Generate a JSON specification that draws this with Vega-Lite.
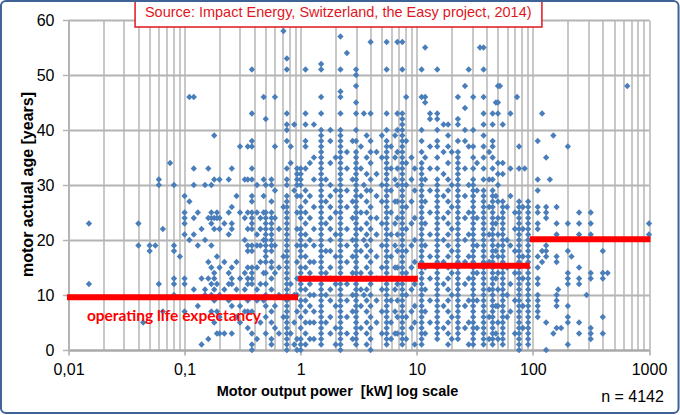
{
"$schema": "https://vega.github.io/schema/vega-lite/v6.json",
"autosize": {"type": "none"},
"width": 580.5,
"height": 330,
"padding": {"left": 68.5, "top": 20, "right": 31, "bottom": 65},
"background": "white",
"config": {"view": {"stroke": null}, "font": "Liberation Sans"},
"datasets": {
"life": [
{"lo":0.0097,"hi":0.95,"life":9.6},
{"lo":0.95,"hi":10.2,"life":12.95},
{"lo":10.2,"hi":94,"life":15.33},
{"lo":94,"hi":1030,"life":20.12}
],
"pts": [
{"p":0.015,"a":23},{"p":0.015,"a":12},
{"p":0.04,"a":23},{"p":0.04,"a":19},
{"p":0.044,"a":5},
{"p":0.05,"a":19},{"p":0.05,"a":18},
{"p":0.056,"a":19},
{"p":0.06,"a":31},{"p":0.06,"a":30},{"p":0.06,"a":12},
{"p":0.065,"a":22},{"p":0.065,"a":7},
{"p":0.075,"a":34},
{"p":0.081,"a":30},{"p":0.081,"a":19},{"p":0.081,"a":18},{"p":0.081,"a":13},{"p":0.081,"a":12},{"p":0.081,"a":10},
{"p":0.091,"a":17},
{"p":0.1,"a":28},{"p":0.1,"a":25},{"p":0.1,"a":24},{"p":0.1,"a":23},{"p":0.1,"a":21},{"p":0.1,"a":13},{"p":0.1,"a":12},{"p":0.1,"a":7},
{"p":0.11,"a":46},{"p":0.11,"a":27},{"p":0.11,"a":20},
{"p":0.12,"a":46},{"p":0.12,"a":33},{"p":0.12,"a":30},{"p":0.12,"a":24},{"p":0.12,"a":21},{"p":0.12,"a":11},
{"p":0.13,"a":25},{"p":0.13,"a":19},{"p":0.13,"a":8},
{"p":0.14,"a":22},{"p":0.14,"a":13},{"p":0.14,"a":1},
{"p":0.15,"a":30},{"p":0.15,"a":20},{"p":0.15,"a":11},{"p":0.15,"a":10},
{"p":0.16,"a":33},{"p":0.16,"a":24},{"p":0.16,"a":16},{"p":0.16,"a":13},{"p":0.16,"a":2},
{"p":0.17,"a":30},{"p":0.17,"a":25},{"p":0.17,"a":24},{"p":0.17,"a":23},{"p":0.17,"a":19},{"p":0.17,"a":15},{"p":0.17,"a":12},{"p":0.17,"a":10},{"p":0.17,"a":7},
{"p":0.18,"a":39},{"p":0.18,"a":31},{"p":0.18,"a":24},{"p":0.18,"a":22},{"p":0.18,"a":14},{"p":0.18,"a":13},{"p":0.18,"a":11},{"p":0.18,"a":9},{"p":0.18,"a":5},
{"p":0.19,"a":25},{"p":0.19,"a":24},{"p":0.19,"a":17},{"p":0.19,"a":12},{"p":0.19,"a":7},{"p":0.19,"a":3},
{"p":0.2,"a":31},{"p":0.2,"a":24},{"p":0.2,"a":22},{"p":0.2,"a":15},{"p":0.2,"a":10},{"p":0.2,"a":6},{"p":0.2,"a":3},
{"p":0.22,"a":23},{"p":0.22,"a":16},{"p":0.22,"a":11},{"p":0.22,"a":3},
{"p":0.24,"a":31},{"p":0.24,"a":25},{"p":0.24,"a":21},{"p":0.24,"a":14},{"p":0.24,"a":12},{"p":0.24,"a":9},
{"p":0.255,"a":33},{"p":0.255,"a":26},{"p":0.255,"a":23},{"p":0.255,"a":22},{"p":0.255,"a":15},{"p":0.255,"a":13},{"p":0.255,"a":12},{"p":0.255,"a":8},{"p":0.255,"a":3},
{"p":0.28,"a":28},{"p":0.28,"a":16},{"p":0.28,"a":11},{"p":0.28,"a":6},
{"p":0.3,"a":37},{"p":0.3,"a":25},{"p":0.3,"a":13},{"p":0.3,"a":8},{"p":0.3,"a":5},
{"p":0.33,"a":31},{"p":0.33,"a":24},{"p":0.33,"a":20},{"p":0.33,"a":14},{"p":0.33,"a":11},{"p":0.33,"a":7},
{"p":0.35,"a":37},{"p":0.35,"a":31},{"p":0.35,"a":25},{"p":0.35,"a":22},{"p":0.35,"a":19},{"p":0.35,"a":18},{"p":0.35,"a":15},{"p":0.35,"a":13},{"p":0.35,"a":12},{"p":0.35,"a":9},{"p":0.35,"a":7},{"p":0.35,"a":4},
{"p":0.38,"a":51},{"p":0.38,"a":43},{"p":0.38,"a":38},{"p":0.38,"a":37},{"p":0.38,"a":33},{"p":0.38,"a":31},{"p":0.38,"a":28},{"p":0.38,"a":27},{"p":0.38,"a":25},{"p":0.38,"a":24},{"p":0.38,"a":23},{"p":0.38,"a":22},{"p":0.38,"a":19},{"p":0.38,"a":18},{"p":0.38,"a":15},{"p":0.38,"a":14},{"p":0.38,"a":13},{"p":0.38,"a":12},{"p":0.38,"a":7},{"p":0.38,"a":3},{"p":0.38,"a":1},{"p":0.38,"a":0},
{"p":0.42,"a":30},{"p":0.42,"a":25},{"p":0.42,"a":21},{"p":0.42,"a":19},{"p":0.42,"a":15},{"p":0.42,"a":11},{"p":0.42,"a":9},{"p":0.42,"a":2},
{"p":0.45,"a":24},{"p":0.45,"a":22},{"p":0.45,"a":19},{"p":0.45,"a":16},{"p":0.45,"a":12},{"p":0.45,"a":5},
{"p":0.48,"a":46},{"p":0.48,"a":31},{"p":0.48,"a":28},{"p":0.48,"a":25},{"p":0.48,"a":20},{"p":0.48,"a":14},{"p":0.48,"a":9},
{"p":0.5,"a":42},{"p":0.5,"a":30},{"p":0.5,"a":25},{"p":0.5,"a":24},{"p":0.5,"a":23},{"p":0.5,"a":22},{"p":0.5,"a":21},{"p":0.5,"a":20},{"p":0.5,"a":19},{"p":0.5,"a":18},{"p":0.5,"a":17},{"p":0.5,"a":16},{"p":0.5,"a":14},{"p":0.5,"a":12},{"p":0.5,"a":10},{"p":0.5,"a":8},{"p":0.5,"a":6},{"p":0.5,"a":3},
{"p":0.56,"a":31},{"p":0.56,"a":30},{"p":0.56,"a":27},{"p":0.56,"a":25},{"p":0.56,"a":24},{"p":0.56,"a":23},{"p":0.56,"a":22},{"p":0.56,"a":21},{"p":0.56,"a":20},{"p":0.56,"a":19},{"p":0.56,"a":18},{"p":0.56,"a":16},{"p":0.56,"a":15},{"p":0.56,"a":13},{"p":0.56,"a":11},{"p":0.56,"a":7},{"p":0.56,"a":5},{"p":0.56,"a":2},{"p":0.56,"a":1},
{"p":0.6,"a":46},{"p":0.6,"a":37},{"p":0.6,"a":29},{"p":0.6,"a":24},{"p":0.6,"a":19},{"p":0.6,"a":14},{"p":0.6,"a":8},{"p":0.6,"a":4},
{"p":0.65,"a":22},{"p":0.65,"a":15},{"p":0.65,"a":10},{"p":0.65,"a":3},
{"p":0.71,"a":58},{"p":0.71,"a":26},{"p":0.71,"a":17},{"p":0.71,"a":6},
{"p":0.76,"a":53},{"p":0.76,"a":51},{"p":0.76,"a":43},{"p":0.76,"a":41},{"p":0.76,"a":40},{"p":0.76,"a":38},{"p":0.76,"a":33},{"p":0.76,"a":31},{"p":0.76,"a":30},{"p":0.76,"a":28},{"p":0.76,"a":27},{"p":0.76,"a":26},{"p":0.76,"a":25},{"p":0.76,"a":24},{"p":0.76,"a":23},{"p":0.76,"a":22},{"p":0.76,"a":21},{"p":0.76,"a":20},{"p":0.76,"a":19},{"p":0.76,"a":18},{"p":0.76,"a":17},{"p":0.76,"a":16},{"p":0.76,"a":15},{"p":0.76,"a":14},{"p":0.76,"a":13},{"p":0.76,"a":12},{"p":0.76,"a":11},{"p":0.76,"a":10},{"p":0.76,"a":9},{"p":0.76,"a":8},{"p":0.76,"a":7},{"p":0.76,"a":6},{"p":0.76,"a":5},{"p":0.76,"a":4},{"p":0.76,"a":3},{"p":0.76,"a":2},{"p":0.76,"a":1},{"p":0.76,"a":0},
{"p":0.82,"a":37},{"p":0.82,"a":34},{"p":0.82,"a":12},{"p":0.82,"a":3},
{"p":0.88,"a":41},{"p":0.88,"a":29},{"p":0.88,"a":10},{"p":0.88,"a":5},{"p":0.88,"a":1},
{"p":0.93,"a":33},{"p":0.93,"a":32},{"p":0.93,"a":31},{"p":0.93,"a":30},{"p":0.93,"a":28},{"p":0.93,"a":25},{"p":0.93,"a":22},{"p":0.93,"a":19},{"p":0.93,"a":16},{"p":0.93,"a":13},{"p":0.93,"a":10},{"p":0.93,"a":7},{"p":0.93,"a":2},{"p":0.93,"a":0},
{"p":1,"a":33},{"p":1,"a":32},{"p":1,"a":31},{"p":1,"a":30},{"p":1,"a":28},{"p":1,"a":26},{"p":1,"a":25},{"p":1,"a":24},{"p":1,"a":22},{"p":1,"a":21},{"p":1,"a":20},{"p":1,"a":19},{"p":1,"a":18},{"p":1,"a":17},{"p":1,"a":15},{"p":1,"a":14},{"p":1,"a":12},{"p":1,"a":11},{"p":1,"a":9},{"p":1,"a":8},{"p":1,"a":6},{"p":1,"a":4},{"p":1,"a":2},{"p":1,"a":1},{"p":1,"a":0},
{"p":1.1,"a":51},{"p":1.1,"a":43},{"p":1.1,"a":41},{"p":1.1,"a":38},{"p":1.1,"a":37},{"p":1.1,"a":33},{"p":1.1,"a":29},{"p":1.1,"a":27},{"p":1.1,"a":25},{"p":1.1,"a":23},{"p":1.1,"a":21},{"p":1.1,"a":19},{"p":1.1,"a":17},{"p":1.1,"a":15},{"p":1.1,"a":13},{"p":1.1,"a":11},{"p":1.1,"a":9},{"p":1.1,"a":7},{"p":1.1,"a":5},{"p":1.1,"a":3},{"p":1.1,"a":1},
{"p":1.2,"a":34},{"p":1.2,"a":28},{"p":1.2,"a":24},{"p":1.2,"a":20},{"p":1.2,"a":16},{"p":1.2,"a":14},{"p":1.2,"a":12},{"p":1.2,"a":10},{"p":1.2,"a":8},{"p":1.2,"a":5},{"p":1.2,"a":2},
{"p":1.3,"a":41},{"p":1.3,"a":35},{"p":1.3,"a":31},{"p":1.3,"a":26},{"p":1.3,"a":22},{"p":1.3,"a":19},{"p":1.3,"a":16},{"p":1.3,"a":13},{"p":1.3,"a":10},{"p":1.3,"a":7},{"p":1.3,"a":5},{"p":1.3,"a":2},
{"p":1.5,"a":52},{"p":1.5,"a":51},{"p":1.5,"a":46},{"p":1.5,"a":43},{"p":1.5,"a":40},{"p":1.5,"a":39},{"p":1.5,"a":38},{"p":1.5,"a":37},{"p":1.5,"a":36},{"p":1.5,"a":35},{"p":1.5,"a":34},{"p":1.5,"a":33},{"p":1.5,"a":32},{"p":1.5,"a":31},{"p":1.5,"a":30},{"p":1.5,"a":29},{"p":1.5,"a":28},{"p":1.5,"a":27},{"p":1.5,"a":26},{"p":1.5,"a":25},{"p":1.5,"a":24},{"p":1.5,"a":23},{"p":1.5,"a":22},{"p":1.5,"a":21},{"p":1.5,"a":20},{"p":1.5,"a":19},{"p":1.5,"a":18},{"p":1.5,"a":17},{"p":1.5,"a":16},{"p":1.5,"a":15},{"p":1.5,"a":14},{"p":1.5,"a":13},{"p":1.5,"a":12},{"p":1.5,"a":11},{"p":1.5,"a":10},{"p":1.5,"a":9},{"p":1.5,"a":8},{"p":1.5,"a":7},{"p":1.5,"a":6},{"p":1.5,"a":5},{"p":1.5,"a":4},{"p":1.5,"a":3},{"p":1.5,"a":2},{"p":1.5,"a":1},
{"p":1.65,"a":31},{"p":1.65,"a":27},{"p":1.65,"a":23},{"p":1.65,"a":18},{"p":1.65,"a":14},{"p":1.65,"a":10},{"p":1.65,"a":5},
{"p":1.8,"a":40},{"p":1.8,"a":38},{"p":1.8,"a":34},{"p":1.8,"a":30},{"p":1.8,"a":28},{"p":1.8,"a":26},{"p":1.8,"a":24},{"p":1.8,"a":22},{"p":1.8,"a":20},{"p":1.8,"a":18},{"p":1.8,"a":15},{"p":1.8,"a":13},{"p":1.8,"a":11},{"p":1.8,"a":9},{"p":1.8,"a":6},{"p":1.8,"a":3},
{"p":2,"a":35},{"p":2,"a":29},{"p":2,"a":25},{"p":2,"a":21},{"p":2,"a":17},{"p":2,"a":12},{"p":2,"a":8},{"p":2,"a":4},{"p":2,"a":1},
{"p":2.2,"a":57},{"p":2.2,"a":51},{"p":2.2,"a":47},{"p":2.2,"a":46},{"p":2.2,"a":43},{"p":2.2,"a":40},{"p":2.2,"a":39},{"p":2.2,"a":38},{"p":2.2,"a":37},{"p":2.2,"a":36},{"p":2.2,"a":35},{"p":2.2,"a":34},{"p":2.2,"a":33},{"p":2.2,"a":32},{"p":2.2,"a":31},{"p":2.2,"a":30},{"p":2.2,"a":29},{"p":2.2,"a":28},{"p":2.2,"a":27},{"p":2.2,"a":26},{"p":2.2,"a":25},{"p":2.2,"a":24},{"p":2.2,"a":23},{"p":2.2,"a":22},{"p":2.2,"a":21},{"p":2.2,"a":20},{"p":2.2,"a":19},{"p":2.2,"a":18},{"p":2.2,"a":17},{"p":2.2,"a":16},{"p":2.2,"a":15},{"p":2.2,"a":14},{"p":2.2,"a":13},{"p":2.2,"a":12},{"p":2.2,"a":11},{"p":2.2,"a":10},{"p":2.2,"a":9},{"p":2.2,"a":8},{"p":2.2,"a":7},{"p":2.2,"a":6},{"p":2.2,"a":5},{"p":2.2,"a":4},{"p":2.2,"a":3},{"p":2.2,"a":2},{"p":2.2,"a":1},{"p":2.2,"a":0},
{"p":2.5,"a":54},{"p":2.5,"a":36},{"p":2.5,"a":33},{"p":2.5,"a":29},{"p":2.5,"a":26},{"p":2.5,"a":22},{"p":2.5,"a":19},{"p":2.5,"a":16},{"p":2.5,"a":12},{"p":2.5,"a":9},{"p":2.5,"a":6},{"p":2.5,"a":3},
{"p":2.8,"a":38},{"p":2.8,"a":31},{"p":2.8,"a":27},{"p":2.8,"a":24},{"p":2.8,"a":20},{"p":2.8,"a":17},{"p":2.8,"a":14},{"p":2.8,"a":10},{"p":2.8,"a":7},{"p":2.8,"a":2},
{"p":3,"a":51},{"p":3,"a":50},{"p":3,"a":48},{"p":3,"a":45},{"p":3,"a":43},{"p":3,"a":40},{"p":3,"a":38},{"p":3,"a":36},{"p":3,"a":35},{"p":3,"a":34},{"p":3,"a":33},{"p":3,"a":32},{"p":3,"a":31},{"p":3,"a":30},{"p":3,"a":29},{"p":3,"a":28},{"p":3,"a":27},{"p":3,"a":26},{"p":3,"a":25},{"p":3,"a":24},{"p":3,"a":23},{"p":3,"a":22},{"p":3,"a":21},{"p":3,"a":20},{"p":3,"a":19},{"p":3,"a":18},{"p":3,"a":17},{"p":3,"a":16},{"p":3,"a":15},{"p":3,"a":14},{"p":3,"a":13},{"p":3,"a":12},{"p":3,"a":11},{"p":3,"a":10},{"p":3,"a":9},{"p":3,"a":8},{"p":3,"a":7},{"p":3,"a":6},{"p":3,"a":5},{"p":3,"a":4},{"p":3,"a":3},{"p":3,"a":2},{"p":3,"a":1},
{"p":3.3,"a":37},{"p":3.3,"a":33},{"p":3.3,"a":28},{"p":3.3,"a":25},{"p":3.3,"a":22},{"p":3.3,"a":18},{"p":3.3,"a":14},{"p":3.3,"a":11},{"p":3.3,"a":8},{"p":3.3,"a":4},
{"p":3.5,"a":43},{"p":3.5,"a":30},{"p":3.5,"a":20},{"p":3.5,"a":10},
{"p":3.7,"a":39},{"p":3.7,"a":35},{"p":3.7,"a":32},{"p":3.7,"a":29},{"p":3.7,"a":27},{"p":3.7,"a":25},{"p":3.7,"a":23},{"p":3.7,"a":21},{"p":3.7,"a":19},{"p":3.7,"a":17},{"p":3.7,"a":15},{"p":3.7,"a":13},{"p":3.7,"a":11},{"p":3.7,"a":9},{"p":3.7,"a":7},{"p":3.7,"a":5},{"p":3.7,"a":3},{"p":3.7,"a":1},
{"p":4,"a":56},{"p":4,"a":43},{"p":4,"a":38},{"p":4,"a":36},{"p":4,"a":34},{"p":4,"a":31},{"p":4,"a":29},{"p":4,"a":26},{"p":4,"a":24},{"p":4,"a":22},{"p":4,"a":20},{"p":4,"a":18},{"p":4,"a":16},{"p":4,"a":14},{"p":4,"a":12},{"p":4,"a":10},{"p":4,"a":8},{"p":4,"a":6},{"p":4,"a":4},{"p":4,"a":2},{"p":4,"a":0},
{"p":4.5,"a":36},{"p":4.5,"a":32},{"p":4.5,"a":28},{"p":4.5,"a":24},{"p":4.5,"a":21},{"p":4.5,"a":17},{"p":4.5,"a":13},{"p":4.5,"a":9},{"p":4.5,"a":5},
{"p":5,"a":39},{"p":5,"a":35},{"p":5,"a":30},{"p":5,"a":27},{"p":5,"a":23},{"p":5,"a":19},{"p":5,"a":15},{"p":5,"a":11},{"p":5,"a":7},{"p":5,"a":3},
{"p":5.5,"a":56},{"p":5.5,"a":51},{"p":5.5,"a":43},{"p":5.5,"a":40},{"p":5.5,"a":38},{"p":5.5,"a":37},{"p":5.5,"a":36},{"p":5.5,"a":35},{"p":5.5,"a":34},{"p":5.5,"a":33},{"p":5.5,"a":32},{"p":5.5,"a":31},{"p":5.5,"a":30},{"p":5.5,"a":29},{"p":5.5,"a":28},{"p":5.5,"a":27},{"p":5.5,"a":26},{"p":5.5,"a":25},{"p":5.5,"a":24},{"p":5.5,"a":23},{"p":5.5,"a":22},{"p":5.5,"a":21},{"p":5.5,"a":20},{"p":5.5,"a":19},{"p":5.5,"a":18},{"p":5.5,"a":17},{"p":5.5,"a":16},{"p":5.5,"a":15},{"p":5.5,"a":14},{"p":5.5,"a":13},{"p":5.5,"a":12},{"p":5.5,"a":11},{"p":5.5,"a":10},{"p":5.5,"a":9},{"p":5.5,"a":8},{"p":5.5,"a":7},{"p":5.5,"a":6},{"p":5.5,"a":5},{"p":5.5,"a":4},{"p":5.5,"a":3},{"p":5.5,"a":2},{"p":5.5,"a":1},
{"p":6,"a":37},{"p":6,"a":33},{"p":6,"a":29},{"p":6,"a":25},{"p":6,"a":21},{"p":6,"a":17},{"p":6,"a":13},{"p":6,"a":9},{"p":6,"a":5},{"p":6,"a":2},
{"p":6.5,"a":39},{"p":6.5,"a":35},{"p":6.5,"a":31},{"p":6.5,"a":27},{"p":6.5,"a":23},{"p":6.5,"a":19},{"p":6.5,"a":15},{"p":6.5,"a":11},{"p":6.5,"a":7},{"p":6.5,"a":3},
{"p":6.8,"a":56},{"p":6.8,"a":43},{"p":6.8,"a":40},{"p":6.8,"a":36},{"p":6.8,"a":33},{"p":6.8,"a":30},{"p":6.8,"a":27},{"p":6.8,"a":24},{"p":6.8,"a":21},{"p":6.8,"a":18},{"p":6.8,"a":15},{"p":6.8,"a":12},{"p":6.8,"a":9},{"p":6.8,"a":6},{"p":6.8,"a":3},
{"p":7.5,"a":56},{"p":7.5,"a":51},{"p":7.5,"a":43},{"p":7.5,"a":42},{"p":7.5,"a":41},{"p":7.5,"a":40},{"p":7.5,"a":39},{"p":7.5,"a":38},{"p":7.5,"a":37},{"p":7.5,"a":36},{"p":7.5,"a":35},{"p":7.5,"a":34},{"p":7.5,"a":33},{"p":7.5,"a":32},{"p":7.5,"a":31},{"p":7.5,"a":30},{"p":7.5,"a":29},{"p":7.5,"a":28},{"p":7.5,"a":27},{"p":7.5,"a":26},{"p":7.5,"a":25},{"p":7.5,"a":24},{"p":7.5,"a":23},{"p":7.5,"a":22},{"p":7.5,"a":21},{"p":7.5,"a":20},{"p":7.5,"a":19},{"p":7.5,"a":18},{"p":7.5,"a":17},{"p":7.5,"a":16},{"p":7.5,"a":15},{"p":7.5,"a":14},{"p":7.5,"a":13},{"p":7.5,"a":12},{"p":7.5,"a":11},{"p":7.5,"a":10},{"p":7.5,"a":9},{"p":7.5,"a":8},{"p":7.5,"a":7},{"p":7.5,"a":6},{"p":7.5,"a":5},{"p":7.5,"a":4},{"p":7.5,"a":3},{"p":7.5,"a":2},{"p":7.5,"a":1},
{"p":8.1,"a":46},{"p":8.1,"a":38},{"p":8.1,"a":34},{"p":8.1,"a":30},{"p":8.1,"a":26},{"p":8.1,"a":22},{"p":8.1,"a":18},{"p":8.1,"a":14},{"p":8.1,"a":10},{"p":8.1,"a":6},{"p":8.1,"a":2},
{"p":9,"a":35},{"p":9,"a":31},{"p":9,"a":27},{"p":9,"a":23},{"p":9,"a":19},{"p":9,"a":15},{"p":9,"a":11},{"p":9,"a":7},{"p":9,"a":4},
{"p":9.6,"a":33},{"p":9.6,"a":29},{"p":9.6,"a":24},{"p":9.6,"a":20},{"p":9.6,"a":16},{"p":9.6,"a":12},{"p":9.6,"a":8},{"p":9.6,"a":5},{"p":9.6,"a":1},
{"p":11,"a":51},{"p":11,"a":46},{"p":11,"a":40},{"p":11,"a":38},{"p":11,"a":36},{"p":11,"a":34},{"p":11,"a":33},{"p":11,"a":32},{"p":11,"a":31},{"p":11,"a":30},{"p":11,"a":29},{"p":11,"a":28},{"p":11,"a":27},{"p":11,"a":26},{"p":11,"a":25},{"p":11,"a":24},{"p":11,"a":23},{"p":11,"a":22},{"p":11,"a":21},{"p":11,"a":20},{"p":11,"a":19},{"p":11,"a":18},{"p":11,"a":17},{"p":11,"a":16},{"p":11,"a":15},{"p":11,"a":14},{"p":11,"a":13},{"p":11,"a":12},{"p":11,"a":11},{"p":11,"a":10},{"p":11,"a":9},{"p":11,"a":8},{"p":11,"a":7},{"p":11,"a":6},{"p":11,"a":5},{"p":11,"a":4},{"p":11,"a":3},{"p":11,"a":2},{"p":11,"a":1},
{"p":11.8,"a":55},{"p":11.8,"a":46},{"p":11.8,"a":45},{"p":11.8,"a":35},{"p":11.8,"a":31},{"p":11.8,"a":27},{"p":11.8,"a":23},{"p":11.8,"a":19},{"p":11.8,"a":15},{"p":11.8,"a":11},{"p":11.8,"a":7},{"p":11.8,"a":3},
{"p":13,"a":43},{"p":13,"a":42},{"p":13,"a":37},{"p":13,"a":33},{"p":13,"a":29},{"p":13,"a":25},{"p":13,"a":21},{"p":13,"a":17},{"p":13,"a":13},{"p":13,"a":9},{"p":13,"a":5},
{"p":15,"a":51},{"p":15,"a":43},{"p":15,"a":42},{"p":15,"a":40},{"p":15,"a":38},{"p":15,"a":37},{"p":15,"a":35},{"p":15,"a":33},{"p":15,"a":31},{"p":15,"a":30},{"p":15,"a":29},{"p":15,"a":28},{"p":15,"a":27},{"p":15,"a":26},{"p":15,"a":25},{"p":15,"a":24},{"p":15,"a":23},{"p":15,"a":22},{"p":15,"a":21},{"p":15,"a":20},{"p":15,"a":19},{"p":15,"a":18},{"p":15,"a":17},{"p":15,"a":16},{"p":15,"a":15},{"p":15,"a":14},{"p":15,"a":13},{"p":15,"a":12},{"p":15,"a":11},{"p":15,"a":10},{"p":15,"a":9},{"p":15,"a":8},{"p":15,"a":7},{"p":15,"a":6},{"p":15,"a":5},{"p":15,"a":4},{"p":15,"a":3},{"p":15,"a":2},
{"p":17,"a":41},{"p":17,"a":36},{"p":17,"a":32},{"p":17,"a":28},{"p":17,"a":24},{"p":17,"a":20},{"p":17,"a":16},{"p":17,"a":12},{"p":17,"a":8},{"p":17,"a":4},
{"p":18.6,"a":41},{"p":18.6,"a":39},{"p":18.6,"a":37},{"p":18.6,"a":34},{"p":18.6,"a":31},{"p":18.6,"a":29},{"p":18.6,"a":27},{"p":18.6,"a":25},{"p":18.6,"a":23},{"p":18.6,"a":21},{"p":18.6,"a":19},{"p":18.6,"a":17},{"p":18.6,"a":15},{"p":18.6,"a":13},{"p":18.6,"a":11},{"p":18.6,"a":9},{"p":18.6,"a":7},{"p":18.6,"a":5},{"p":18.6,"a":3},{"p":18.6,"a":1},
{"p":20,"a":36},{"p":20,"a":30},{"p":20,"a":26},{"p":20,"a":22},{"p":20,"a":18},{"p":20,"a":14},{"p":20,"a":10},{"p":20,"a":6},{"p":20,"a":2},
{"p":22.6,"a":46},{"p":22.6,"a":42},{"p":22.6,"a":41},{"p":22.6,"a":38},{"p":22.6,"a":36},{"p":22.6,"a":35},{"p":22.6,"a":34},{"p":22.6,"a":33},{"p":22.6,"a":32},{"p":22.6,"a":31},{"p":22.6,"a":30},{"p":22.6,"a":29},{"p":22.6,"a":28},{"p":22.6,"a":27},{"p":22.6,"a":26},{"p":22.6,"a":25},{"p":22.6,"a":24},{"p":22.6,"a":23},{"p":22.6,"a":22},{"p":22.6,"a":21},{"p":22.6,"a":20},{"p":22.6,"a":19},{"p":22.6,"a":18},{"p":22.6,"a":17},{"p":22.6,"a":16},{"p":22.6,"a":15},{"p":22.6,"a":14},{"p":22.6,"a":13},{"p":22.6,"a":12},{"p":22.6,"a":11},{"p":22.6,"a":10},{"p":22.6,"a":9},{"p":22.6,"a":8},{"p":22.6,"a":7},{"p":22.6,"a":6},{"p":22.6,"a":5},{"p":22.6,"a":4},{"p":22.6,"a":3},{"p":22.6,"a":2},
{"p":26,"a":48},{"p":26,"a":44},{"p":26,"a":40},{"p":26,"a":38},{"p":26,"a":33},{"p":26,"a":28},{"p":26,"a":24},{"p":26,"a":20},{"p":26,"a":16},{"p":26,"a":12},{"p":26,"a":8},{"p":26,"a":4},
{"p":28,"a":51},{"p":28,"a":37},{"p":28,"a":30},{"p":28,"a":25},{"p":28,"a":21},{"p":28,"a":17},{"p":28,"a":13},{"p":28,"a":9},{"p":28,"a":5},{"p":28,"a":1},
{"p":30.6,"a":46},{"p":30.6,"a":40},{"p":30.6,"a":37},{"p":30.6,"a":35},{"p":30.6,"a":33},{"p":30.6,"a":31},{"p":30.6,"a":30},{"p":30.6,"a":29},{"p":30.6,"a":28},{"p":30.6,"a":27},{"p":30.6,"a":26},{"p":30.6,"a":25},{"p":30.6,"a":24},{"p":30.6,"a":23},{"p":30.6,"a":22},{"p":30.6,"a":21},{"p":30.6,"a":20},{"p":30.6,"a":19},{"p":30.6,"a":18},{"p":30.6,"a":17},{"p":30.6,"a":16},{"p":30.6,"a":15},{"p":30.6,"a":14},{"p":30.6,"a":13},{"p":30.6,"a":12},{"p":30.6,"a":11},{"p":30.6,"a":10},{"p":30.6,"a":9},{"p":30.6,"a":8},{"p":30.6,"a":7},{"p":30.6,"a":6},{"p":30.6,"a":5},{"p":30.6,"a":4},{"p":30.6,"a":3},{"p":30.6,"a":2},{"p":30.6,"a":1},
{"p":33,"a":34},{"p":33,"a":29},{"p":33,"a":24},{"p":33,"a":19},{"p":33,"a":14},{"p":33,"a":9},{"p":33,"a":4},
{"p":35,"a":55},
{"p":37.6,"a":55},{"p":37.6,"a":51},{"p":37.6,"a":46},{"p":37.6,"a":43},{"p":37.6,"a":41},{"p":37.6,"a":39},{"p":37.6,"a":37},{"p":37.6,"a":35},{"p":37.6,"a":33},{"p":37.6,"a":31},{"p":37.6,"a":29},{"p":37.6,"a":28},{"p":37.6,"a":27},{"p":37.6,"a":26},{"p":37.6,"a":25},{"p":37.6,"a":24},{"p":37.6,"a":23},{"p":37.6,"a":22},{"p":37.6,"a":21},{"p":37.6,"a":20},{"p":37.6,"a":19},{"p":37.6,"a":18},{"p":37.6,"a":17},{"p":37.6,"a":16},{"p":37.6,"a":15},{"p":37.6,"a":14},{"p":37.6,"a":13},{"p":37.6,"a":12},{"p":37.6,"a":11},{"p":37.6,"a":10},{"p":37.6,"a":9},{"p":37.6,"a":8},{"p":37.6,"a":7},{"p":37.6,"a":6},{"p":37.6,"a":5},{"p":37.6,"a":4},{"p":37.6,"a":3},{"p":37.6,"a":2},{"p":37.6,"a":1},
{"p":42,"a":36},{"p":42,"a":31},{"p":42,"a":26},{"p":42,"a":21},{"p":42,"a":16},{"p":42,"a":11},{"p":42,"a":6},{"p":42,"a":2},
{"p":45,"a":43},{"p":45,"a":41},{"p":45,"a":38},{"p":45,"a":37},{"p":45,"a":35},{"p":45,"a":33},{"p":45,"a":31},{"p":45,"a":29},{"p":45,"a":28},{"p":45,"a":27},{"p":45,"a":26},{"p":45,"a":25},{"p":45,"a":24},{"p":45,"a":23},{"p":45,"a":22},{"p":45,"a":21},{"p":45,"a":20},{"p":45,"a":19},{"p":45,"a":18},{"p":45,"a":17},{"p":45,"a":16},{"p":45,"a":15},{"p":45,"a":14},{"p":45,"a":13},{"p":45,"a":12},{"p":45,"a":11},{"p":45,"a":10},{"p":45,"a":9},{"p":45,"a":8},{"p":45,"a":7},{"p":45,"a":6},{"p":45,"a":5},{"p":45,"a":4},{"p":45,"a":3},{"p":45,"a":2},{"p":45,"a":1},
{"p":48,"a":45},{"p":48,"a":28},{"p":48,"a":23},{"p":48,"a":18},{"p":48,"a":13},{"p":48,"a":8},{"p":48,"a":3},
{"p":50,"a":48},{"p":50,"a":45},{"p":50,"a":43},{"p":50,"a":34},{"p":50,"a":32},{"p":50,"a":30},{"p":50,"a":27},{"p":50,"a":24},{"p":50,"a":21},{"p":50,"a":19},{"p":50,"a":17},{"p":50,"a":14},{"p":50,"a":11},{"p":50,"a":8},{"p":50,"a":5},{"p":50,"a":2},
{"p":52,"a":48},
{"p":55,"a":41},{"p":55,"a":34},{"p":55,"a":32},{"p":55,"a":27},{"p":55,"a":26},{"p":55,"a":25},{"p":55,"a":24},{"p":55,"a":23},{"p":55,"a":22},{"p":55,"a":21},{"p":55,"a":20},{"p":55,"a":19},{"p":55,"a":18},{"p":55,"a":17},{"p":55,"a":16},{"p":55,"a":15},{"p":55,"a":14},{"p":55,"a":13},{"p":55,"a":12},{"p":55,"a":11},{"p":55,"a":10},{"p":55,"a":9},{"p":55,"a":8},{"p":55,"a":7},{"p":55,"a":6},{"p":55,"a":5},{"p":55,"a":4},{"p":55,"a":3},{"p":55,"a":2},{"p":55,"a":1},
{"p":60,"a":26},{"p":60,"a":20},{"p":60,"a":15},{"p":60,"a":10},{"p":60,"a":6},
{"p":64,"a":43},{"p":64,"a":33},{"p":64,"a":28},{"p":64,"a":19},{"p":64,"a":12},{"p":64,"a":7},
{"p":70,"a":25},{"p":70,"a":22},{"p":70,"a":18},{"p":70,"a":14},{"p":70,"a":9},{"p":70,"a":3},
{"p":73,"a":46},
{"p":76,"a":37},{"p":76,"a":33},{"p":76,"a":27},{"p":76,"a":26},{"p":76,"a":25},{"p":76,"a":24},{"p":76,"a":23},{"p":76,"a":22},{"p":76,"a":21},{"p":76,"a":20},{"p":76,"a":19},{"p":76,"a":18},{"p":76,"a":17},{"p":76,"a":16},{"p":76,"a":15},{"p":76,"a":14},{"p":76,"a":13},{"p":76,"a":12},{"p":76,"a":11},{"p":76,"a":10},{"p":76,"a":9},{"p":76,"a":8},{"p":76,"a":7},{"p":76,"a":6},{"p":76,"a":5},{"p":76,"a":4},{"p":76,"a":3},{"p":76,"a":2},{"p":76,"a":1},{"p":76,"a":0},
{"p":82,"a":26},{"p":82,"a":22},{"p":82,"a":17},{"p":82,"a":13},{"p":82,"a":8},{"p":82,"a":4},
{"p":85,"a":33},
{"p":91,"a":27},{"p":91,"a":26},{"p":91,"a":25},{"p":91,"a":24},{"p":91,"a":23},{"p":91,"a":22},{"p":91,"a":21},{"p":91,"a":20},{"p":91,"a":19},{"p":91,"a":18},{"p":91,"a":17},{"p":91,"a":16},{"p":91,"a":15},{"p":91,"a":14},{"p":91,"a":13},{"p":91,"a":12},{"p":91,"a":11},{"p":91,"a":10},{"p":91,"a":9},{"p":91,"a":8},{"p":91,"a":7},{"p":91,"a":6},{"p":91,"a":5},{"p":91,"a":4},{"p":91,"a":3},{"p":91,"a":2},{"p":91,"a":1},
{"p":110,"a":38},{"p":110,"a":31},{"p":110,"a":29},{"p":110,"a":26},{"p":110,"a":25},{"p":110,"a":23},{"p":110,"a":22},{"p":110,"a":17},{"p":110,"a":15},{"p":110,"a":13},{"p":110,"a":12},{"p":110,"a":10},{"p":110,"a":9},{"p":110,"a":8},{"p":110,"a":7},{"p":110,"a":6},
{"p":120,"a":43},{"p":120,"a":18},{"p":120,"a":16},
{"p":130,"a":35},{"p":130,"a":26},{"p":130,"a":25},{"p":130,"a":24},{"p":130,"a":19},{"p":130,"a":18},{"p":130,"a":17},{"p":130,"a":5},{"p":130,"a":0},
{"p":140,"a":31},
{"p":150,"a":39},{"p":150,"a":3},
{"p":160,"a":26},{"p":160,"a":23},{"p":160,"a":21},{"p":160,"a":17},{"p":160,"a":16},{"p":160,"a":10},{"p":160,"a":9},{"p":160,"a":8},{"p":160,"a":4},
{"p":165,"a":11},
{"p":175,"a":4},
{"p":200,"a":37},{"p":200,"a":23},{"p":200,"a":18},{"p":200,"a":14},{"p":200,"a":13},{"p":200,"a":12},{"p":200,"a":8},{"p":200,"a":6},{"p":200,"a":5},{"p":200,"a":1},
{"p":215,"a":17},
{"p":250,"a":25},{"p":250,"a":23},{"p":250,"a":21},{"p":250,"a":15},{"p":250,"a":13},{"p":250,"a":12},{"p":250,"a":5},{"p":250,"a":3},
{"p":290,"a":10},
{"p":315,"a":25},{"p":315,"a":23},{"p":315,"a":21},{"p":315,"a":14},{"p":315,"a":13},{"p":315,"a":4},{"p":315,"a":3},{"p":315,"a":2},
{"p":400,"a":18},{"p":400,"a":14},{"p":400,"a":13},{"p":400,"a":6},{"p":400,"a":3},
{"p":440,"a":14},
{"p":650,"a":48},
{"p":1000,"a":23},{"p":1000,"a":21}
]
},
"layer": [
{
"data": {"name": "pts"},
"mark": {"type": "point", "shape": "diamond", "filled": true, "size": 40, "color": "#4a7ebb", "opacity": 1, "strokeWidth": 0},
"encoding": {
"x": {"field": "p", "type": "quantitative",
"scale": {"type": "log", "domain": [0.01, 1000], "nice": false},
"axis": {
"title": "Motor output power\u00a0 [kW] log scale",
"titleFont": "Liberation Sans", "titleFontSize": 14.5, "titleFontWeight": "bold", "titleColor": "#000000",
"titleX": 268.5, "titleY": 45, "titleAlign": "center", "titleBaseline": "alphabetic", "titleAnchor": null,
"values": [0.01,0.02,0.03,0.04,0.05,0.06,0.07,0.08,0.09,0.1,0.2,0.3,0.4,0.5,0.6,0.7,0.8,0.9,1,2,3,4,5,6,7,8,9,10,20,30,40,50,60,70,80,90,100,200,300,400,500,600,700,800,900,1000],
"labelExpr": "indexof([0.01,0.1,1,10,100,1000], datum.value) >= 0 ? replace(datum.value + '', '.', ',') : ''",
"labelFont": "Liberation Sans", "labelFontSize": 16, "labelColor": "#000000",
"labelBaseline": "alphabetic", "labelPadding": 19, "labelOverlap": false, "labelBound": false, "labelFlush": false,
"grid": true, "gridColor": "#c8c8c8", "gridWidth": 2,
"domain": true, "domainColor": "#a8a8a8", "domainWidth": 2,
"ticks": true, "tickSize": 5, "tickWidth": 1.5,
"tickColor": {"condition": {"test": "indexof([0.01,0.1,1,10,100,1000], datum.value) >= 0", "value": "#a8a8a8"}, "value": "transparent"}
}
},
"y": {"field": "a", "type": "quantitative",
"scale": {"domain": [0, 60], "nice": false, "zero": true},
"axis": {
"title": "motor actual age [years]",
"titleFont": "Liberation Sans", "titleFontSize": 16, "titleFontWeight": "bold", "titleColor": "#000000",
"titleX": -36.5, "titleY": 164, "titleAngle": -90, "titleAlign": "center", "titleBaseline": "alphabetic", "titleAnchor": null,
"values": [0,10,20,30,40,50,60],
"labelFont": "Liberation Sans", "labelFontSize": 16, "labelColor": "#000000", "labelPadding": 8.5,
"grid": true, "gridColor": "#b4b4b4", "gridWidth": 2,
"domain": true, "domainColor": "#b4b4b4", "domainWidth": 2,
"ticks": true, "tickSize": 6, "tickColor": "#b4b4b4", "tickWidth": 1.5
}
}
}
},
{
"data": {"name": "life"},
"mark": {"type": "rule", "color": "#ff0000", "strokeWidth": 6},
"encoding": {
"x": {"field": "lo", "type": "quantitative", "scale": {"type": "log", "domain": [0.01, 1000], "nice": false}},
"x2": {"field": "hi"},
"y": {"field": "life", "type": "quantitative", "scale": {"domain": [0, 60], "nice": false}}
}
},
{
"data": {"values": [{}]},
"mark": {"type": "rect", "fill": "white", "stroke": "#e0161e", "strokeWidth": 1.5},
"encoding": {
"x": {"datum": 0.03745, "type": "quantitative", "scale": {"type": "log", "domain": [0.01, 1000], "nice": false}},
"x2": {"datum": 119.6},
"y": {"datum": 63.55, "type": "quantitative", "scale": {"domain": [0, 60], "nice": false}},
"y2": {"datum": 58.73}
}
},
{
"data": {"values": [{}]},
"mark": {"type": "text", "text": "Source: Impact Energy, Switzerland, the Easy project, 2014)", "font": "Liberation Sans", "fontSize": 14.5, "color": "#e0161e", "align": "center", "baseline": "middle"},
"encoding": {
"x": {"datum": 2.105, "type": "quantitative", "scale": {"type": "log", "domain": [0.01, 1000], "nice": false}},
"y": {"datum": 61.2, "type": "quantitative", "scale": {"domain": [0, 60], "nice": false}}
}
},
{
"data": {"values": [{}]},
"mark": {"type": "text", "text": "operating life expectancy", "font": "Lato", "fontSize": 15.5, "fontWeight": "bold", "color": "#ff0000", "align": "left", "baseline": "middle"},
"encoding": {
"x": {"datum": 0.0144, "type": "quantitative", "scale": {"type": "log", "domain": [0.01, 1000], "nice": false}},
"y": {"datum": 6.2, "type": "quantitative", "scale": {"domain": [0, 60], "nice": false}}
}
},
{
"data": {"values": [{}]},
"mark": {"type": "text", "text": "n = 4142", "font": "Liberation Sans", "fontSize": 16, "color": "#000000", "align": "center", "baseline": "middle"},
"encoding": {
"x": {"datum": 721, "type": "quantitative", "scale": {"type": "log", "domain": [0.01, 1000], "nice": false}},
"y": {"datum": -8.6, "type": "quantitative", "scale": {"domain": [0, 60], "nice": false}}
}
},
{
"data": {"values": [{}]},
"mark": {"type": "rect", "fill": null, "fillOpacity": 0, "stroke": "#3f6296", "strokeWidth": 2, "cornerRadius": 5},
"encoding": {
"x": {"datum": 0.002619, "type": "quantitative", "scale": {"type": "log", "domain": [0.01, 1000], "nice": false}},
"x2": {"datum": 1796},
"y": {"datum": 63.45, "type": "quantitative", "scale": {"domain": [0, 60], "nice": false}},
"y2": {"datum": -11.45}
}
}
]
}
